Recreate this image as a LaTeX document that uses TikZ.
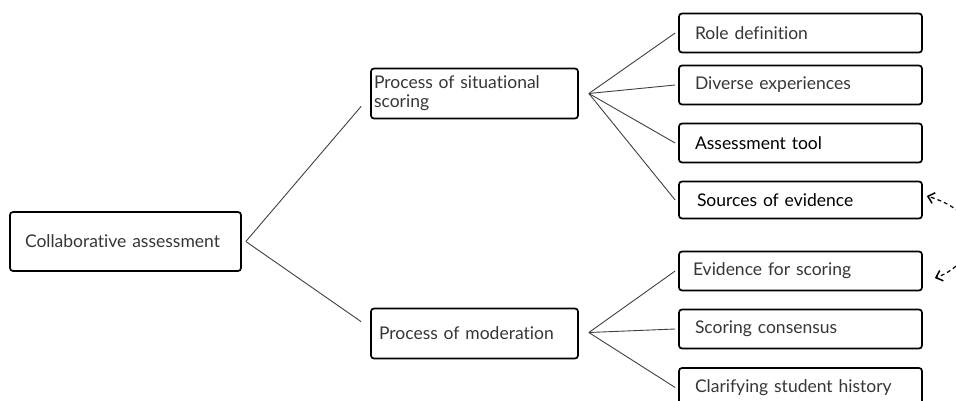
\documentclass[tikz,border=0pt]{standalone}
\usepackage{fontspec}
\setmainfont[Ligatures={NoCommon}]{Lato}
\usetikzlibrary{calc,arrows.meta}
\definecolor{txt}{HTML}{363636}
\tikzset{
  box/.style={draw=black, line width=1.7pt, rounded corners=3pt, text=txt,
    font=\fontsize{17.5}{19}\selectfont, align=left, inner ysep=0pt, anchor=center},
  conn/.style={draw=black!75, line width=0.9pt},
  fb/.style={draw=black, line width=1.2pt, dashed, dash pattern=on 4pt off 3pt,
    -{Straight Barb[length=6pt,width=11pt,line width=1.5pt]}}
}
\begin{document}
\begin{tikzpicture}[x=1pt,y=-1pt]
\useasboundingbox (0,0) rectangle (956,400);
\clip (0,0) rectangle (956,400);
% root
\node[box, minimum width=231, minimum height=59, inner xsep=15pt, text width=201pt] (root) at (125.5,241.5) {Collaborative assessment};
% level 2
\node[box, minimum width=207, minimum height=50, inner xsep=3pt, text width=201pt] (psit) at (474.5,93.5) {Process of situational\\scoring};
\node[box, minimum width=207, minimum height=50, inner xsep=8pt, text width=191pt] (pmod) at (474.5,333.5) {Process of moderation};
% level 3
\node[box, minimum width=243, minimum height=39, inner xsep=16pt, text width=211pt] (role) at (800.5,33) {Role definition};
\node[box, minimum width=243, minimum height=39, inner xsep=16pt, text width=211pt] (div) at (800.5,85) {Diverse experiences};
\node[box, minimum width=243, minimum height=39, inner xsep=16pt, text width=211pt, text=black] (tool) at (800.5,143) {Assessment tool};
\node[box, minimum width=243, minimum height=37, inner xsep=18pt, text width=207pt, text=black] (src) at (800.5,200) {Sources of evidence};
\node[box, minimum width=243, minimum height=39, inner xsep=14pt, text width=215pt] (evid) at (800.5,271) {Evidence for scoring};
\node[box, minimum width=243, minimum height=39, inner xsep=16pt, text width=211pt] (cons) at (800.5,329) {Scoring consensus};
\node[box, minimum width=243, minimum height=39, inner xsep=16pt, text width=211pt] (hist) at (800.5,387.5) {Clarifying student history};
% connectors
\coordinate (r0) at ($(root.east)+(4,0)$);
\draw[conn] (r0) -- ($(psit.south west)+(-9,-13)$);
\draw[conn] (r0) -- ($(pmod.north west)+(-9,14)$);
\coordinate (s0) at ($(psit.east)+(10,0)$);
\foreach \n in {role,div,tool,src} \draw[conn] (s0) -- ($(\n.west)+(-3,0)$);
\coordinate (m0) at ($(pmod.east)+(10,-1)$);
\foreach \n in {evid,cons,hist} \draw[conn] (m0) -- ($(\n.west)+(-3,0)$);
% feedback arrows (curve leaves the picture on the right)
\draw[fb] (972,236) .. controls (970,215) and (950,203) .. ($(src.east)+(4,-4)$);
\draw[fb] (972,236) .. controls (970,258) and (952,272) .. ($(evid.east)+(12,7)$);
\end{tikzpicture}
\end{document}
